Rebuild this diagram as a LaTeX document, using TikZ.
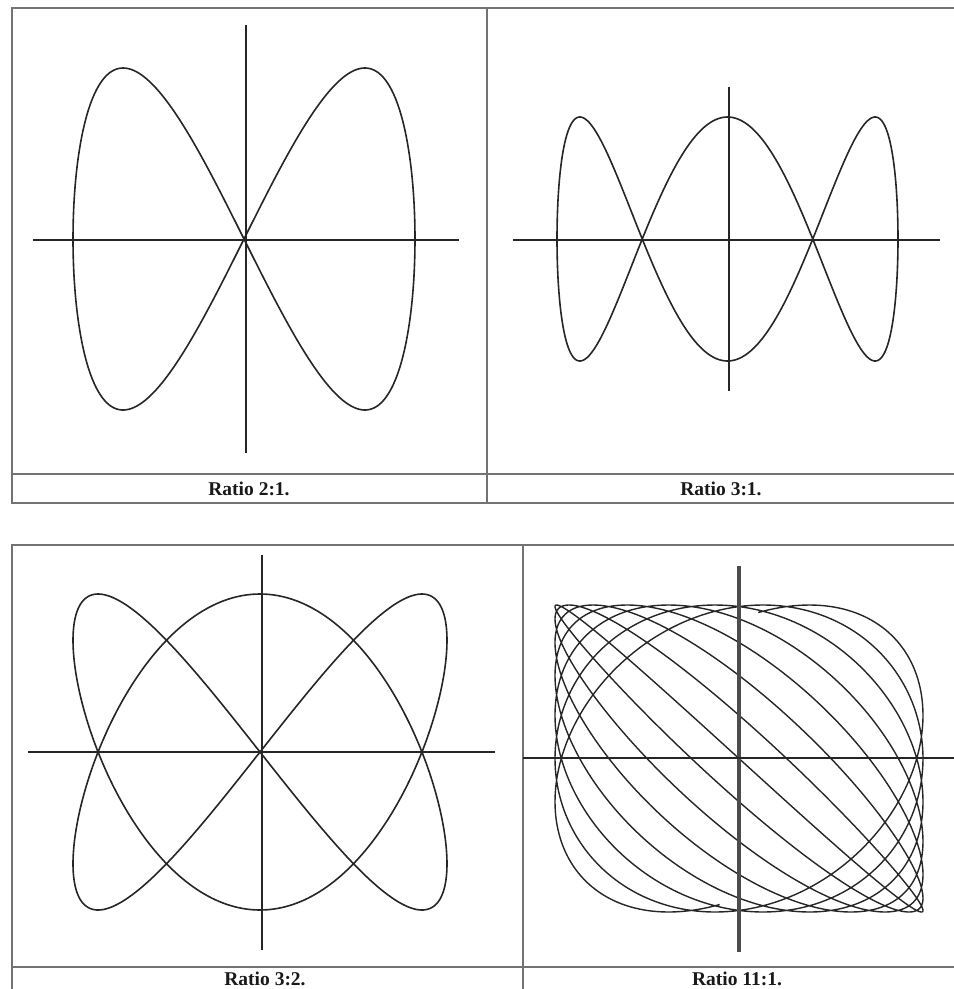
\documentclass[tikz,border=0pt]{standalone}
\usepackage{fontspec}
\setmainfont{Liberation Serif}
\begin{document}
\begin{tikzpicture}[x=1pt,y=-1pt,
  frame/.style={line width=2.8pt,draw=black!55},
  axis/.style={line width=1.6pt,draw=black!85},
  thickaxis/.style={line width=3.2pt,draw=black!70},
  curve/.style={line width=1.6pt,draw=black!85,line join=round},
  captext/.style={font=\fontsize{19.5}{22}\selectfont\bfseries,text=black!90,inner sep=0pt}]
\useasboundingbox (0,0) rectangle (954,989);
% ---------- top panel frame ----------
\coordinate (tTL) at (12,8);
\coordinate (tTR) at (954,8);
\coordinate (tBL) at (12,503);
\coordinate (tBR) at (954,503);
\coordinate (tCL) at (12,474);
\coordinate (tCR) at (954,474);
\coordinate (tDT) at (487,8);
\coordinate (tDB) at (487,503);
\draw[frame] (tTR) -- (tTL) -- (tBL) -- (tBR);
\draw[frame] (tCL) -- (tCR);
\draw[frame] (tDT) -- (tDB);
% ---------- bottom panel frame ----------
\coordinate (bTL) at (12,545);
\coordinate (bTR) at (954,545);
\coordinate (bBL) at (12,989);
\coordinate (bCL) at (12,967);
\coordinate (bCR) at (954,967);
\coordinate (bDT) at (523,545);
\coordinate (bDB) at (523,989);
\draw[frame] (bTR) -- (bTL) -- (bBL);
\draw[frame] (bCL) -- (bCR);
\draw[frame] (bDT) -- (bDB);
% ---------- Ratio 2:1 ----------
\coordinate (a1t) at (246,25); \coordinate (a1b) at (246,453);
\coordinate (a1l) at (33,240); \coordinate (a1r) at (459,240);
\draw[axis] (a1t) -- (a1b);
\draw[axis] (a1l) -- (a1r);
\draw[curve] plot[domain=0:360,samples=400,variable=\t] ({244+171*sin(\t)},{239+171*sin(2*\t)}) -- cycle;
% ---------- Ratio 3:1 ----------
\coordinate (a2t) at (729,87); \coordinate (a2b) at (729,391);
\coordinate (a2l) at (513,240); \coordinate (a2r) at (940,240);
\draw[axis] (a2t) -- (a2b);
\draw[axis] (a2l) -- (a2r);
\draw[curve] plot[domain=0:360,samples=500,variable=\t] ({727.5+170.5*sin(\t)},{239-122*cos(3*\t)}) -- cycle;
% ---------- Ratio 3:2 ----------
\coordinate (a3t) at (262,555); \coordinate (a3b) at (262,950);
\coordinate (a3l) at (28,752); \coordinate (a3r) at (495,752);
\draw[axis] (a3t) -- (a3b);
\draw[axis] (a3l) -- (a3r);
\draw[curve] plot[domain=0:360,samples=600,variable=\t] ({260+187*sin(2*\t)},{752-158*cos(3*\t)}) -- cycle;
% ---------- Ratio 11:1 ----------
\draw[curve,line width=1.4pt] plot[domain=66:294,samples=1500,variable=\t] ({739+184*sin(11*\t)},{758.5-153.5*sin(12*\t)});
\coordinate (a4t) at (739,566); \coordinate (a4b) at (739,952);
\coordinate (a4l) at (523,758); \coordinate (a4r) at (954,758);
\draw[thickaxis] (a4t) -- (a4b);
\draw[axis] (a4l) -- (a4r);
% ---------- captions ----------
\node[captext] (c1) at (249,489) {Ratio 2:1.};
\node[captext] (c2) at (721,489) {Ratio 3:1.};
\node[captext] (c3) at (265,979) {Ratio 3:2.};
\node[captext] (c4) at (737,979) {Ratio 11:1.};
\end{tikzpicture}
\end{document}
